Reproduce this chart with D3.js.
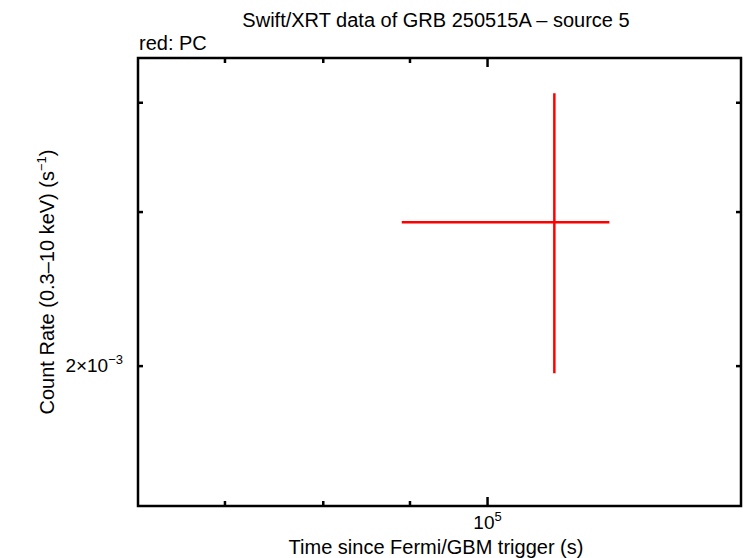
<!DOCTYPE html>
<html>
<head>
<meta charset="utf-8">
<script src="https://cdn.jsdelivr.net/npm/d3@7"></script>
<style>
  body { margin: 0; background: #fff; }
  svg { display: block; font-family: "Liberation Sans", Arial, sans-serif; }
</style>
</head>
<body>
<svg id="chart" width="746" height="558"></svg>
<script>
// Data
const times = [1.095e5];
const timeErrLo = [8.90e4];
const timeErrHi = [1.18e5];
const rates = [2.92e-3];
const rateErrLo = [1.963e-3];
const rateErrHi = [4.10e-3];

const xDomain = [6.22e4, 1.411e5];
const yDomain = [1.384e-3, 4.50e-3];
const xMajorTicks = [1e5];
const xMinorTicks = [7e4, 8e4, 9e4];
const yMajorTicks = [2e-3];
const yMinorTicks = [3e-3, 4e-3];

const svg = d3.select("#chart");
const L = 138, R = 741, T = 58, B = 506;

const x = d3.scaleLog().domain(xDomain).range([L, R]);
const y = d3.scaleLog().domain(yDomain).range([B, T]);

// ticks
const tickG = svg.append("g").attr("stroke", "#000").attr("stroke-width", 2.5);
function xTick(v, len) {
  tickG.append("line").attr("x1", x(v)).attr("x2", x(v)).attr("y1", B).attr("y2", B - len);
  tickG.append("line").attr("x1", x(v)).attr("x2", x(v)).attr("y1", T).attr("y2", T + len);
}
function yTick(v, len) {
  tickG.append("line").attr("y1", y(v)).attr("y2", y(v)).attr("x1", L).attr("x2", L + len);
  tickG.append("line").attr("y1", y(v)).attr("y2", y(v)).attr("x1", R).attr("x2", R - len);
}
xMajorTicks.forEach(v => xTick(v, 9));
xMinorTicks.forEach(v => xTick(v, 5));
yMajorTicks.forEach(v => yTick(v, 5));
yMinorTicks.forEach(v => yTick(v, 5));

// data (error crosses)
const dg = svg.append("g").attr("stroke", "#ff0000").attr("stroke-width", 2.5);
times.forEach((t, i) => {
  dg.append("line").attr("x1", x(timeErrLo[i])).attr("x2", x(timeErrHi[i]))
    .attr("y1", y(rates[i])).attr("y2", y(rates[i]));
  dg.append("line").attr("x1", x(t)).attr("x2", x(t))
    .attr("y1", y(rateErrLo[i])).attr("y2", y(rateErrHi[i]));
});

// frame
svg.append("rect").attr("x", L).attr("y", T).attr("width", R - L).attr("height", B - T)
  .attr("fill", "none").attr("stroke", "#000").attr("stroke-width", 2.5);

// tick labels
const xl = svg.append("text").attr("x", x(1e5)).attr("y", 529).attr("text-anchor", "middle")
  .attr("font-size", 19);
xl.append("tspan").text("10");
xl.append("tspan").attr("dy", -8).attr("font-size", 13).text("5");

const yl = svg.append("text").attr("x", 123).attr("y", 372).attr("text-anchor", "end")
  .attr("font-size", 19);
yl.append("tspan").text("2×10");
yl.append("tspan").attr("dy", -8).attr("font-size", 13).text("−3");

// titles
svg.append("text").attr("x", 436).attr("y", 27).attr("text-anchor", "middle")
  .attr("font-size", 20).text("Swift/XRT data of GRB 250515A – source 5");
svg.append("text").attr("x", 139).attr("y", 50).attr("font-size", 20).text("red: PC");
svg.append("text").attr("x", 436).attr("y", 554).attr("text-anchor", "middle")
  .attr("font-size", 20).text("Time since Fermi/GBM trigger (s)");

const ylab = svg.append("text").attr("transform", "translate(54,282) rotate(-90)")
  .attr("text-anchor", "middle").attr("font-size", 20);
ylab.append("tspan").text("Count Rate (0.3–10 keV) (s");
ylab.append("tspan").attr("dy", -8).attr("font-size", 13).text("−1");
ylab.append("tspan").attr("dy", 8).text(")");
</script>
</body>
</html>
